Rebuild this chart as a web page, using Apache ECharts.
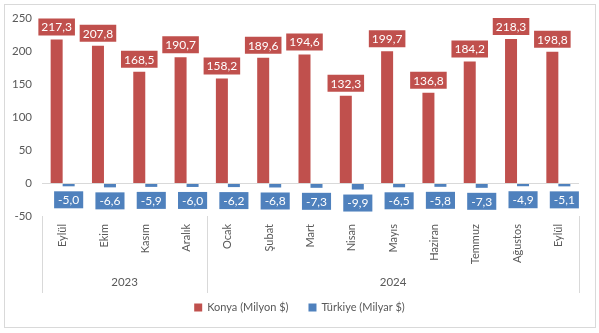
<!DOCTYPE html>
<html>
<head>
<meta charset="utf-8">
<script src="https://cdn.jsdelivr.net/npm/echarts@6/dist/echarts.min.js"></script>
<style>
html,body{margin:0;padding:0;background:#fff;}
#frame{position:absolute;left:4px;top:4px;width:590px;height:322px;border:1px solid #D9D9D9;}
#chart{position:absolute;left:0;top:0;width:599px;height:333px;}
</style>
</head>
<body>
<div id="frame"></div>
<div id="chart"></div>
<script>
const months = ['Eylül','Ekim','Kasım','Aralık','Ocak','Şubat','Mart','Nisan','Mayıs','Haziran','Temmuz','Ağustos','Eylül'];
const years = ['2023','2024'];
const yearCounts = [4, 9];
const konya = [217.3,207.8,168.5,190.7,158.2,189.6,194.6,132.3,199.7,136.8,184.2,218.3,198.8];
const turkiye = [-5.0,-6.6,-5.9,-6.0,-6.2,-6.8,-7.3,-9.9,-6.5,-5.8,-7.3,-4.9,-5.1];
const seriesNames = ['Konya (Milyon $)','Türkiye (Milyar $)'];
const yTicks = {min:-50, max:250, interval:50};

const RED = '#C0504D', BLUE = '#4F81BD', TXT = '#595959', LINE = '#D9D9D9';
const FONT = 'Lato';
const fmt = v => v.toFixed(1).replace('.', ',');

// group boundaries and centers for the year level
const bounds = [0]; const centers = [];
yearCounts.forEach((c,i)=>{ const s = bounds[bounds.length-1]; centers.push(s + c/2); bounds.push(s + c); });

const chart = echarts.init(document.getElementById('chart'), null, {renderer:'canvas'});
chart.setOption({
  animation:false,
  backgroundColor:'transparent',
  textStyle:{fontFamily:FONT},
  grid:{left:42, right:20, top:18, bottom:117, containLabel:false},
  legend:{
    bottom:15, left:'center', itemWidth:8, itemHeight:8, itemGap:20,
    icon:'rect',
    textStyle:{color:TXT, fontSize:11, fontFamily:FONT},
    data:seriesNames
  },
  xAxis:[
    {
      type:'category', data:months, position:'bottom',
      axisLine:{show:false, onZero:false}, axisTick:{show:false},
      axisLabel:{rotate:90, color:TXT, fontSize:11, margin:8, fontFamily:FONT, interval:0}
    },
    {
      type:'value', min:0, max:months.length, position:'bottom',
      axisLine:{show:false, onZero:false},
      splitLine:{show:false},
      axisTick:{show:true, customValues:bounds, length:77, lineStyle:{color:LINE}},
      axisLabel:{customValues:centers, margin:60, color:TXT, fontSize:11.5, fontFamily:FONT,
        formatter:v=>{ const i = centers.indexOf(v); return i>=0 ? years[i] : ''; }}
    }
  ],
  yAxis:{
    type:'value', min:yTicks.min, max:yTicks.max, interval:yTicks.interval,
    axisLine:{show:false}, axisTick:{show:false}, splitLine:{show:false},
    axisLabel:{color:TXT, fontSize:11.5, margin:10, fontFamily:FONT}
  },
  series:[
    {
      name:seriesNames[0], type:'bar', data:konya, barWidth:12, barGap:'0%',
      itemStyle:{color:RED},
      label:{show:true, position:'top', distance:4, color:'#fff', backgroundColor:RED,
        padding:[3,3,2,3], fontSize:12, fontFamily:FONT, formatter:p=>fmt(p.value)},
      markLine:{silent:true, symbol:'none', label:{show:false},
        lineStyle:{color:LINE, type:'solid', width:1}, data:[{yAxis:0}]}
    },
    {
      name:seriesNames[1], type:'bar', data:turkiye, barWidth:12, barGap:'0%',
      itemStyle:{color:BLUE},
      label:{show:true, position:'bottom', distance:5, color:'#fff', backgroundColor:BLUE,
        padding:[3,4,2,4], fontSize:12, fontFamily:FONT, formatter:p=>fmt(p.value)}
    }
  ]
});
</script>
</body>
</html>
